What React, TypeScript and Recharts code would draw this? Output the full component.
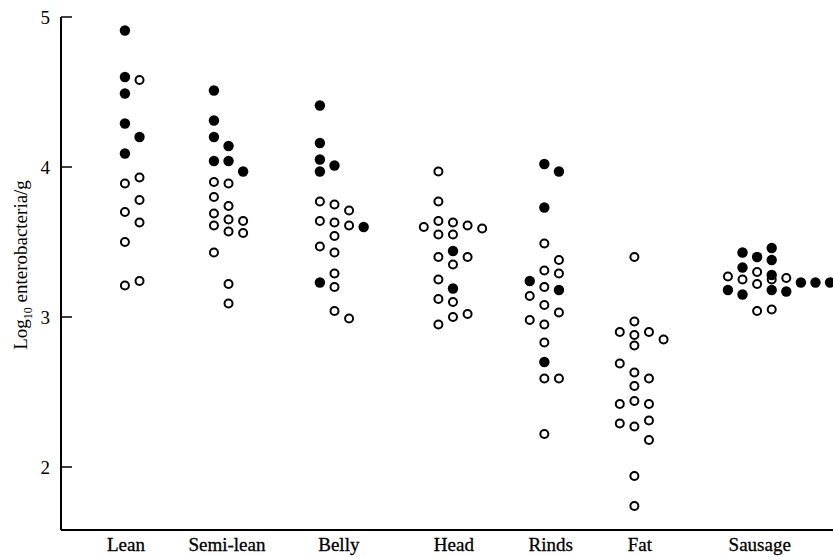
import { Scatter, ScatterChart, XAxis, YAxis } from "recharts";

const CATEGORIES = ["Lean", "Semi-lean", "Belly", "Head", "Rinds", "Fat", "Sausage"];

// Each sample: [column inside its group, log10 enterobacteria/g, 1 = solid marker]
const LEAN = [
  [0, 4.91, 1], [0, 4.6, 1], [1, 4.58, 0], [0, 4.49, 1], [0, 4.29, 1],
  [1, 4.2, 1], [0, 4.09, 1], [1, 3.93, 0], [0, 3.89, 0], [1, 3.78, 0],
  [0, 3.7, 0], [1, 3.63, 0], [0, 3.5, 0], [0, 3.21, 0], [1, 3.24, 0],
];
const SEMI_LEAN = [
  [0, 4.51, 1], [0, 4.31, 1], [0, 4.2, 1], [1, 4.14, 1], [0, 4.04, 1],
  [1, 4.04, 1], [2, 3.97, 1], [0, 3.9, 0], [1, 3.89, 0], [0, 3.8, 0],
  [1, 3.74, 0], [0, 3.69, 0], [1, 3.65, 0], [2, 3.64, 0], [0, 3.61, 0],
  [1, 3.57, 0], [2, 3.56, 0], [0, 3.43, 0], [1, 3.22, 0], [1, 3.09, 0],
];
const BELLY = [
  [0, 4.41, 1], [0, 4.16, 1], [0, 4.05, 1], [1, 4.01, 1], [0, 3.97, 1],
  [0, 3.77, 0], [1, 3.75, 0], [2, 3.71, 0], [0, 3.64, 0], [1, 3.63, 0],
  [2, 3.61, 0], [3, 3.6, 1], [1, 3.54, 0], [0, 3.47, 0], [1, 3.43, 0],
  [1, 3.29, 0], [0, 3.23, 1], [1, 3.2, 0], [1, 3.04, 0], [2, 2.99, 0],
];
const HEAD = [
  [1, 3.97, 0], [1, 3.77, 0], [0, 3.6, 0], [1, 3.64, 0], [2, 3.63, 0],
  [3, 3.61, 0], [4, 3.59, 0], [1, 3.55, 0], [2, 3.55, 0], [2, 3.44, 1],
  [1, 3.4, 0], [3, 3.4, 0], [2, 3.35, 0], [1, 3.25, 0], [2, 3.19, 1],
  [1, 3.12, 0], [2, 3.1, 0], [2, 3.0, 0], [3, 3.02, 0], [1, 2.95, 0],
];
const RINDS = [
  [1, 4.02, 1], [2, 3.97, 1], [1, 3.73, 1], [1, 3.49, 0], [2, 3.38, 0],
  [1, 3.31, 0], [2, 3.29, 0], [0, 3.24, 1], [1, 3.2, 0], [2, 3.18, 1],
  [0, 3.14, 0], [1, 3.08, 0], [2, 3.03, 0], [0, 2.98, 0], [1, 2.95, 0],
  [1, 2.83, 0], [1, 2.7, 1], [1, 2.59, 0], [2, 2.59, 0], [1, 2.22, 0],
];
const FAT = [
  [1, 3.4, 0], [1, 2.97, 0], [0, 2.9, 0], [1, 2.88, 0], [2, 2.9, 0],
  [3, 2.85, 0], [1, 2.81, 0], [0, 2.69, 0], [1, 2.63, 0], [2, 2.59, 0],
  [1, 2.54, 0], [0, 2.42, 0], [1, 2.44, 0], [2, 2.42, 0], [2, 2.31, 0],
  [0, 2.29, 0], [1, 2.27, 0], [2, 2.18, 0], [1, 1.94, 0], [1, 1.74, 0],
];
const SAUSAGE = [
  [0, 3.27, 0], [0, 3.18, 1], [1, 3.43, 1], [1, 3.33, 1], [1, 3.25, 0],
  [1, 3.15, 1], [2, 3.4, 1], [2, 3.3, 0], [2, 3.22, 0], [2, 3.04, 0],
  [3, 3.46, 1], [3, 3.38, 1], [3, 3.28, 1], [3, 3.25, 0], [3, 3.18, 1],
  [3, 3.05, 0], [4, 3.26, 0], [4, 3.17, 1], [5, 3.23, 1], [6, 3.23, 1],
  [7, 3.23, 1],
];

const GROUPS = [LEAN, SEMI_LEAN, BELLY, HEAD, RINDS, FAT, SAUSAGE];
const Y_TICKS = [2, 3, 4, 5];

// layout in "column" units (one marker width apart)
const X_MAX = 52.9;
const GROUP_START = [4.38, 10.48, 17.74, 24.86, 32.12, 38.29, 45.7];
const LABEL_AT = [4.45, 11.37, 19.04, 26.92, 33.56, 39.66, 47.88];

const FONT = "'Liberation Serif', 'Times New Roman', serif";

const points = GROUPS.flatMap((group, i) =>
  group.map(([col, value, solid]) => ({ x: GROUP_START[i] + col, y: value, solid }))
);
const solidPoints = points.filter((p) => p.solid);
const openPoints = points.filter((p) => !p.solid);

function YTick({ x, y, payload }: any) {
  return (
    <g>
      <line x1={x} x2={x + 11} y1={y} y2={y} stroke="#000" strokeWidth={1.5} />
      <text x={x - 11} y={y} dy="0.35em" textAnchor="end" fontFamily={FONT} fontSize={19} fill="#000">
        {payload.value}
      </text>
    </g>
  );
}

function XTick({ x, y, payload }: any) {
  const idx = LABEL_AT.indexOf(payload.value);
  return (
    <text
      x={x}
      y={y + 21}
      textAnchor="middle"
      fontFamily={FONT}
      fontSize={19}
      fill="#000"
      stroke="#000"
      strokeWidth={0.3}
    >
      {CATEGORIES[idx]}
    </text>
  );
}

function YLabel() {
  return (
    <text
      transform="translate(20, 265) rotate(-90)"
      textAnchor="middle"
      dy="0.35em"
      fontFamily={FONT}
      fontSize={19}
      fill="#000"
    >
      Log
      <tspan fontSize={12} dy={5}>10</tspan>
      <tspan dy={-5}> enterobacteria/g</tspan>
    </text>
  );
}

const openDot = (p: any) => (
  <circle cx={p.cx} cy={p.cy} r={4} fill="#fff" stroke="#000" strokeWidth={2} />
);
const solidDot = (p: any) => <circle cx={p.cx} cy={p.cy} r={5.2} fill="#000" />;

export default function App() {
  return (
    <div style={{ position: "absolute", left: 0, top: 0, background: "#fff" }}>
      <ScatterChart width={833} height={557} margin={{ top: 17, right: 0, bottom: 0, left: 0 }}>
        <XAxis
          type="number"
          dataKey="x"
          domain={[0, X_MAX]}
          ticks={LABEL_AT}
          tick={<XTick />}
          tickLine={false}
          tickSize={0}
          tickMargin={0}
          height={27}
          axisLine={{ stroke: "#000", strokeWidth: 2 }}
          allowDataOverflow
        />
        <YAxis
          type="number"
          dataKey="y"
          domain={[1.58, 5]}
          ticks={Y_TICKS}
          tick={<YTick />}
          tickLine={false}
          tickSize={0}
          tickMargin={0}
          width={61}
          axisLine={{ stroke: "#000", strokeWidth: 2 }}
          label={<YLabel />}
          allowDataOverflow
        />
        <Scatter data={openPoints} shape={openDot} isAnimationActive={false} />
        <Scatter data={solidPoints} shape={solidDot} isAnimationActive={false} />
      </ScatterChart>
    </div>
  );
}
